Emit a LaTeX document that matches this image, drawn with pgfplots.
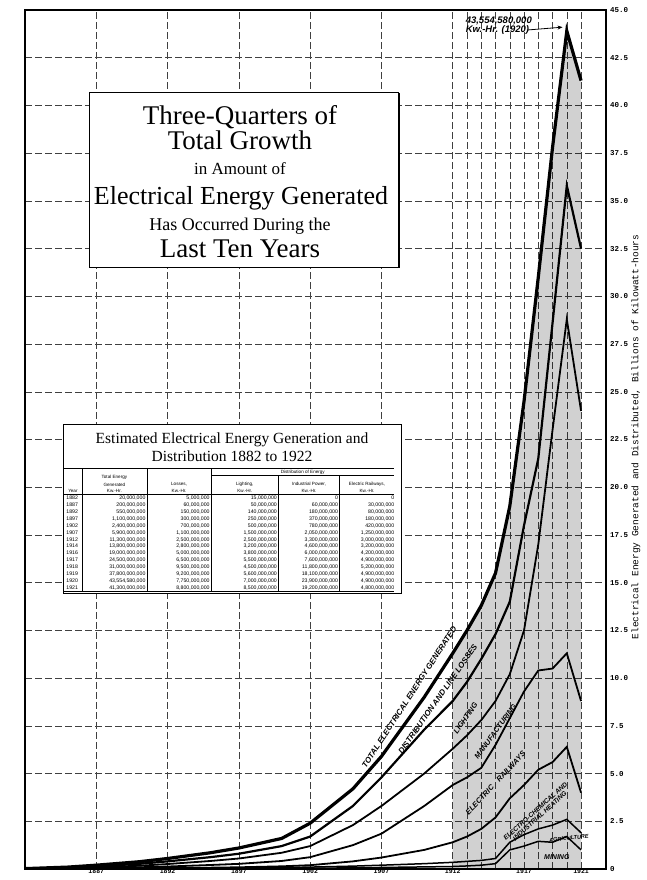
\documentclass[border=0pt]{standalone}
\usepackage{pgfplots}
\pgfplotsset{compat=1.18}
\usepackage{pgfplotstable}
\usepackage{array}
\usepackage{fontspec}
\setmainfont{Liberation Serif}
\newfontfamily\monofont{Liberation Mono}
\newfontfamily\labfont{Liberation Sans}
\usetikzlibrary{arrows.meta}

% cumulative boundaries, billions of kw-hr (top = total generated)
\pgfplotstableread{
year  T      L2     L3     L4     L5    L6    L7
1882  0.02   0.01   0.005  0.0    0.0   0.0   0.0
1885  0.10   0.07   0.04   0.02   0.01  0.005 0.0
1887  0.20   0.14   0.09   0.05   0.02  0.01  0.005
1890  0.38   0.27   0.17   0.09   0.04  0.02  0.01
1892  0.55   0.40   0.26   0.13   0.05  0.03  0.01
1895  0.85   0.62   0.42   0.21   0.07  0.04  0.015
1897  1.10   0.80   0.55   0.27   0.09  0.05  0.02
1900  1.60   1.20   0.85   0.42   0.14  0.07  0.03
1902  2.40   1.70   1.20   0.62   0.20  0.10  0.04
1905  4.20   3.30   2.30   1.25   0.40  0.15  0.06
1907  5.90   4.80   3.30   1.85   0.60  0.20  0.08
1910  9.00   7.30   5.00   3.30   1.00  0.28  0.11
1912  11.30  8.80   6.30   4.40   1.40  0.35  0.13
1913  12.50  9.80   7.00   4.80   1.70  0.40  0.16
1914  13.80  11.00  7.80   5.30   2.10  0.45  0.20
1915  15.50  12.30  8.80   6.50   2.70  0.55  0.28
1916  19.00  14.00  10.20  7.90   3.70  1.40  1.00
1917  24.50  18.00  12.50  9.30   4.40  1.80  1.20
1918  31.00  21.50  17.00  10.40  5.20  2.10  1.45
1919  37.80  28.60  23.00  10.50  5.60  2.30  1.40
1920  43.90  35.80  28.80  11.30  6.40  2.60  1.70
1921  41.30  32.50  24.00  8.80   4.00  1.90  1.00
}\growth

\newcommand{\bandlab}{\labfont\bfseries\itshape\fontsize{7.5}{7.5}\selectfont}
\newcommand{\hd}[1]{\multicolumn{1}{c|}{\shortstack{#1}}}

\begin{document}
\begin{tikzpicture}[x=1pt,y=1pt]
\path[use as bounding box] (0,0) rectangle (647,880);
\begin{axis}[
  at={(25pt,11pt)}, anchor=south west,
  scale only axis, width=581pt, height=859pt,
  xmin=1882, xmax=1922.75, ymin=0, ymax=45,
  axis line style={line width=1.3pt},
  xtick={1887,1892,1897,1902,1907,1912,1913,1914,1915,1916,1917,1918,1919,1920,1921},
  xticklabels={1887,1892,1897,1902,1907,1912,,,,,1917,,,,1921},
  ytick={0,2.5,...,45},
  yticklabels={0,2.5,5.0,7.5,10.0,12.5,15.0,17.5,20.0,22.5,25.0,27.5,30.0,32.5,35.0,37.5,40.0,42.5,45.0},
  yticklabel pos=right,
  major tick length=0pt,
  grid=major,
  major grid style={black!75, line width=0.5pt, dash pattern=on 7pt off 3pt},
  xticklabel style={font=\monofont\bfseries\fontsize{6.5}{6.5}\selectfont, inner sep=1pt, yshift=1pt},
  yticklabel style={font=\monofont\bfseries\fontsize{7.5}{7.5}\selectfont, inner sep=2pt, xshift=2pt},
  /pgf/number format/assume math mode=true,
  every axis plot/.append style={line join=miter},
]
\addplot[draw=none, fill=black, fill opacity=0.18, restrict x to domain=1912:1921]
  table[x=year, y=T] {\growth} \closedcycle;
\addplot[black, line width=3.2pt] table[x=year, y=T]  {\growth};
\addplot[black, line width=2.2pt] table[x=year, y=L2] {\growth};
\addplot[black, line width=1.8pt] table[x=year, y=L3] {\growth};
\addplot[black, line width=1.8pt] table[x=year, y=L4] {\growth};
\addplot[black, line width=1.8pt] table[x=year, y=L5] {\growth};
\addplot[black, line width=1.5pt] table[x=year, y=L6] {\growth};
\addplot[black, line width=1.5pt] table[x=year, y=L7] {\growth};

% band labels
\node[rotate=57, font=\bandlab\fontsize{8}{8}\selectfont] at (axis cs:1908.95,9.0) {TOTAL ELECTRICAL ENERGY GENERATED};
\node[rotate=55, font=\bandlab\fontsize{8}{8}\selectfont] at (axis cs:1910.95,8.9) {DISTRIBUTION AND LINE LOSSES};
\node[rotate=55, font=\bandlab] at (axis cs:1912.9,7.9) {LIGHTING};
\node[rotate=54, font=\bandlab] at (axis cs:1915.0,7.2) {MANUFACTURING};
\node[rotate=47, font=\bandlab] at (axis cs:1915.0,4.5) {ELECTRIC\quad RAILWAYS};
\node[rotate=42, font=\bandlab\fontsize{6.5}{6.5}\selectfont, align=center, inner sep=0pt]
  at (axis cs:1917.95,2.9) {ELECTRO-CHEMICAL AND\\INDUSTRIAL HEATING};
\node[rotate=6, font=\bandlab\fontsize{5.5}{5.5}\selectfont, inner sep=0pt] at (axis cs:1920.15,1.62) {AGRICULTURE};
\node[font=\bandlab\fontsize{7}{7}\selectfont, inner sep=0pt] at (axis cs:1919.3,0.6) {MINING};

% peak note
\node[anchor=west, align=left, inner sep=0pt, font=\labfont\bfseries\itshape\fontsize{9.5}{9}\selectfont]
  at (axis cs:1912.9,44.2) {43,554,580,000\\Kw.-Hr. (1920)};
\draw[-{Stealth[length=5pt,width=4pt]}, line width=0.8pt] (axis cs:1917.2,43.95) -- (axis cs:1919.7,44.1);
\end{axis}

% right-hand axis title
\node[rotate=90, font=\monofont\fontsize{9.5}{9.5}\selectfont] at (636,443)
  {Electrical Energy Generated and Distributed, Billions of Kilowatt-hours};

% title box
\draw[fill=white, line width=1pt] (89,612) rectangle (398,787);
\draw[line width=2.2pt] (399,612) -- (399,787);
\node[anchor=base, font=\fontsize{27}{27}\selectfont] at (240,755) {Three-Quarters of};
\node[anchor=base, font=\fontsize{27}{27}\selectfont] at (240,730) {Total Growth};
\node[anchor=base, font=\fontsize{17}{17}\selectfont] at (240,705) {in Amount of};
\node[anchor=base, font=\fontsize{26}{26}\selectfont] at (241,675) {Electrical Energy Generated};
\node[anchor=base, font=\fontsize{18}{18}\selectfont] at (240,649) {Has Occurred During the};
\node[anchor=base, font=\fontsize{27}{27}\selectfont] at (240,622) {Last Ten Years};

% table box
\draw[fill=white, line width=1pt] (63,286) rectangle (401,455);
\node[anchor=base, font=\fontsize{15.5}{15.5}\selectfont] at (232,436) {Estimated Electrical Energy Generation and};
\node[anchor=base, font=\fontsize{15.5}{15.5}\selectfont] at (232,418) {Distribution 1882 to 1922};
\node[anchor=north west, inner sep=0pt] at (64,412) {%
\labfont\fontsize{5.2}{6.9}\selectfont\setlength\tabcolsep{1.4pt}%
\begin{tabular}{@{}>{\centering\arraybackslash}p{16pt}|>{\raggedleft\arraybackslash}p{62pt}|>{\raggedleft\arraybackslash}p{61pt}|>{\raggedleft\arraybackslash}p{64pt}|>{\raggedleft\arraybackslash}p{58pt}|>{\raggedleft\arraybackslash}p{53pt}@{}}
\hline
 & & & \multicolumn{3}{c}{\fontsize{4.6}{5}\selectfont Distribution of Energy}\\ \cline{4-6}
\multicolumn{1}{c|}{\fontsize{4.6}{5}\selectfont Year} & \hd{\fontsize{4.6}{5}\selectfont Total Energy\\\fontsize{4.6}{5}\selectfont Generated\\\fontsize{4.6}{5}\selectfont Kw.-Hr.} & \hd{\fontsize{4.6}{5}\selectfont Losses,\\\fontsize{4.6}{5}\selectfont Kw.-Hr.} & \hd{\fontsize{4.6}{5}\selectfont Lighting,\\\fontsize{4.6}{5}\selectfont Kw.-Hr.} & \hd{\fontsize{4.6}{5}\selectfont Industrial Power,\\\fontsize{4.6}{5}\selectfont Kw.-Hr.} & \multicolumn{1}{c}{\shortstack{\fontsize{4.6}{5}\selectfont Electric Railways,\\\fontsize{4.6}{5}\selectfont Kw.-Hr.}}\\ \hline
1882 & 20,000,000 & 5,000,000 & 15,000,000 & 0 & 0\\
1887 & 200,000,000 & 60,000,000 & 50,000,000 & 60,000,000 & 30,000,000\\
1892 & 550,000,000 & 150,000,000 & 140,000,000 & 180,000,000 & 80,000,000\\
1897 & 1,100,000,000 & 300,000,000 & 250,000,000 & 370,000,000 & 180,000,000\\
1902 & 2,400,000,000 & 700,000,000 & 500,000,000 & 780,000,000 & 420,000,000\\
1907 & 5,900,000,000 & 1,100,000,000 & 1,500,000,000 & 2,050,000,000 & 1,250,000,000\\
1912 & 11,300,000,000 & 2,500,000,000 & 2,500,000,000 & 3,300,000,000 & 3,000,000,000\\
1914 & 13,800,000,000 & 2,800,000,000 & 3,200,000,000 & 4,600,000,000 & 3,200,000,000\\
1916 & 19,000,000,000 & 5,000,000,000 & 3,800,000,000 & 6,000,000,000 & 4,200,000,000\\
1917 & 24,500,000,000 & 6,500,000,000 & 5,500,000,000 & 7,600,000,000 & 4,900,000,000\\
1918 & 31,000,000,000 & 9,500,000,000 & 4,500,000,000 & 11,800,000,000 & 5,200,000,000\\
1919 & 37,800,000,000 & 9,200,000,000 & 5,600,000,000 & 18,100,000,000 & 4,900,000,000\\
1920 & 43,554,580,000 & 7,750,000,000 & 7,000,000,000 & 23,900,000,000 & 4,900,000,000\\
1921 & 41,300,000,000 & 8,800,000,000 & 8,500,000,000 & 19,200,000,000 & 4,800,000,000\\
\hline
\end{tabular}};
\end{tikzpicture}
\end{document}
